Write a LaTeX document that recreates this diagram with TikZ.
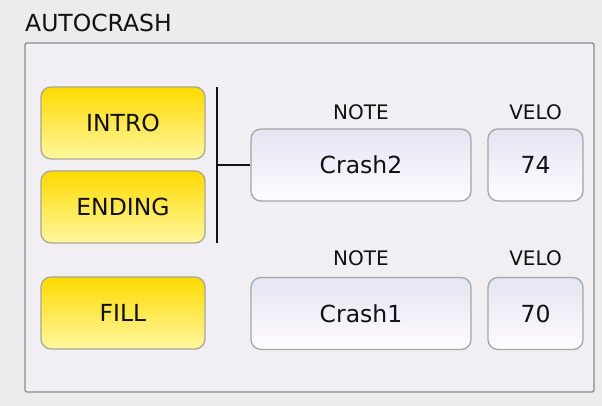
\documentclass[tikz,border=0pt]{standalone}
\usepackage{fontspec}
\setmainfont{DejaVu Sans}
\usetikzlibrary{shadings}
\definecolor{pagebg}{HTML}{EEEBEF}
\definecolor{panelbg}{HTML}{F1EFF3}
\definecolor{panelline}{HTML}{8A8A8A}
\definecolor{btnedge}{HTML}{A8A892}
\definecolor{boxedge}{HTML}{A3A8A3}
\definecolor{yeltop}{HTML}{FFDA00}
\definecolor{yelbot}{HTML}{FFF7A0}
\definecolor{boxtop}{HTML}{E4E4F3}
\definecolor{boxbot}{HTML}{FFFCFF}
\definecolor{ink}{HTML}{111111}
\begin{document}
\begin{tikzpicture}[x=1pt,y=-1pt,
  yellowbtn/.style={rectangle, rounded corners=10pt, draw=btnedge, line width=1.3pt,
    top color=yeltop, bottom color=yelbot, minimum width=164pt, minimum height=72pt,
    font=\fontsize{23.5}{27}\selectfont, text=ink, inner sep=0pt},
  valuebox/.style={rectangle, rounded corners=10pt, draw=boxedge, line width=1.3pt,
    top color=boxtop, bottom color=boxbot, minimum height=72pt,
    font=\fontsize{23.5}{27}\selectfont, text=ink, inner sep=0pt},
  caption/.style={font=\fontsize{20}{24}\selectfont, text=ink, inner sep=0pt},
  bracket/.style={line width=1.2pt, draw=ink}]
  % page and framed panel
  \useasboundingbox (0,0) rectangle (602,406);
  \fill[pagebg] (0,0) rectangle (602,406);
  \node[rectangle, rounded corners=2pt, draw=panelline, fill=panelbg, line width=1.3pt,
    minimum width=569pt, minimum height=349pt, inner sep=0pt] (panel) at (309.5,217.5) {};
  \node[anchor=base west, font=\fontsize{23.5}{27}\selectfont, text=ink, inner sep=0pt]
    (title) at (25,32) {AUTOCRASH};

  % trigger buttons
  \node[yellowbtn] (intro)  at (123,123) {INTRO};
  \node[yellowbtn] (ending) at (123,207) {ENDING};
  \node[yellowbtn] (fill)   at (123,313) {FILL};

  % column captions
  \node[caption, anchor=base] (note1) at (361,120) {NOTE};
  \node[caption, anchor=base] (velo1) at (535.5,120) {VELO};
  \node[caption, anchor=base] (note2) at (361,265) {NOTE};
  \node[caption, anchor=base] (velo2) at (535.5,265) {VELO};

  % note and velocity fields
  \node[valuebox, minimum width=220pt] (crash2) at (361,165) {Crash2};
  \node[valuebox, minimum width=95pt]  (v74)    at (535.5,165) {74};
  \node[valuebox, minimum width=220pt] (crash1) at (361,313.5) {Crash1};
  \node[valuebox, minimum width=95pt]  (v70)    at (535.5,313.5) {70};

  % bracket joining INTRO and ENDING to the first field
  \coordinate (btop) at (217,87);
  \coordinate (bbot) at (217,243);
  \coordinate (bmid) at (217,165);
  \draw[bracket] (btop) -- (bbot);
  \draw[bracket] (bmid) -- (crash2.west);
\end{tikzpicture}
\end{document}
